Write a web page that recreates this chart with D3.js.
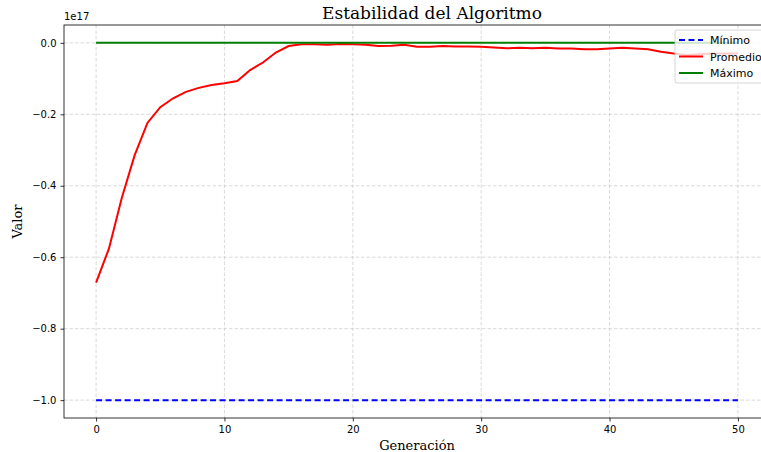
<!DOCTYPE html>
<html>
<head>
<meta charset="utf-8">
<script src="https://cdn.jsdelivr.net/npm/d3@7"></script>
<style>
  body { margin: 0; background: #fff; overflow: hidden; }
  svg { display: block; }
</style>
</head>
<body>
<svg id="chart" width="761" height="452"></svg>
<script>
// generations 0..50, values in units of 1e17
let generaciones = d3.range(0, 51);
let minimo = generaciones.map(() => -1.0);
let maximo = generaciones.map(() => 0.0);
let promedio = [
    -0.671, -0.576, -0.434, -0.315, -0.224, -0.180, -0.155, -0.137, -0.126, -0.118,
    -0.113, -0.107, -0.076, -0.055, -0.027, -0.009, -0.004, -0.004, -0.005, -0.003,
    -0.004, -0.005, -0.009, -0.008, -0.005, -0.011, -0.011, -0.009, -0.010, -0.010,
    -0.011, -0.013, -0.015, -0.014, -0.015, -0.014, -0.016, -0.016, -0.018, -0.018,
    -0.016, -0.014, -0.016, -0.018, -0.025, -0.030, -0.034, -0.032, -0.030, -0.030,
    -0.030
];
let xTicks = [0, 10, 20, 30, 40, 50];
let yTicks = [0.0, -0.2, -0.4, -0.6, -0.8, -1.0];

let series = [
    {name: "Mínimo", values: minimo, color: "blue", dash: "6,3.5"},
    {name: "Promedio", values: promedio, color: "red", dash: null},
    {name: "Máximo", values: maximo, color: "green", dash: null}
];

let margin = {top: 25, left: 64, right: -9, bottom: 34};
let width = 761 - margin.left - margin.right;
let height = 452 - margin.top - margin.bottom;

let svg = d3.select("#chart");
let g = svg.append("g").attr("transform", `translate(${margin.left},${margin.top})`);

let x = d3.scaleLinear().domain([-2.5, 52.5]).range([0, width]);
let y = d3.scaleLinear().domain([-1.05, 0.05]).range([height, 0]);

// grid
g.append("g").selectAll("line").data(xTicks).enter().append("line")
    .attr("x1", d => x(d)).attr("x2", d => x(d))
    .attr("y1", 0).attr("y2", height)
    .attr("stroke", "#b0b0b0").attr("stroke-opacity", 0.6)
    .attr("stroke-dasharray", "3.5,2").attr("stroke-width", 0.8);
g.append("g").selectAll("line").data(yTicks).enter().append("line")
    .attr("y1", d => y(d)).attr("y2", d => y(d))
    .attr("x1", 0).attr("x2", width)
    .attr("stroke", "#b0b0b0").attr("stroke-opacity", 0.6)
    .attr("stroke-dasharray", "3.5,2").attr("stroke-width", 0.8);

// lines
let line = d3.line()
    .x((d, i) => x(generaciones[i]))
    .y(d => y(d));

series.forEach(s => {
    g.append("path")
        .datum(s.values)
        .attr("fill", "none")
        .attr("stroke", s.color)
        .attr("stroke-width", 2)
        .attr("stroke-dasharray", s.dash)
        .attr("d", line);
});

// axes
let fmt = d => d3.format(".1f")(d).replace("-", "−");
let xAxis = g.append("g").attr("transform", `translate(0,${height})`)
    .call(d3.axisBottom(x).tickValues(xTicks).tickSize(3.5).tickPadding(4));
let yAxis = g.append("g")
    .call(d3.axisLeft(y).tickValues(yTicks).tickFormat(fmt).tickSize(3.5).tickPadding(4));
[xAxis, yAxis].forEach(a => {
    a.select(".domain").remove();
    a.selectAll("text").attr("font-family", "DejaVu Sans").attr("font-size", 10).attr("fill", "#000");
    a.selectAll("line").attr("stroke", "#000").attr("stroke-width", 0.8);
});

// spines
g.append("rect")
    .attr("x", 0).attr("y", 0).attr("width", width).attr("height", height)
    .attr("fill", "none").attr("stroke", "#000").attr("stroke-width", 0.8);

// offset text
svg.append("text")
    .attr("x", margin.left).attr("y", margin.top - 5)
    .attr("font-family", "DejaVu Sans").attr("font-size", 10)
    .text("1e17");

// title and labels
svg.append("text")
    .attr("x", 432).attr("y", 19)
    .attr("text-anchor", "middle")
    .attr("font-family", "DejaVu Serif").attr("font-size", 17)
    .text("Estabilidad del Algoritmo");

svg.append("text")
    .attr("x", 417).attr("y", 450)
    .attr("text-anchor", "middle")
    .attr("font-family", "DejaVu Serif").attr("font-size", 13)
    .text("Generación");

svg.append("text")
    .attr("transform", `translate(22,${margin.top + height / 2}) rotate(-90)`)
    .attr("text-anchor", "middle")
    .attr("font-family", "DejaVu Serif").attr("font-size", 13)
    .text("Valor");

// legend
let legend = svg.append("g").attr("transform", "translate(675,30)");
legend.append("rect")
    .attr("width", 100).attr("height", 53).attr("rx", 2)
    .attr("fill", "#fff").attr("fill-opacity", 0.8)
    .attr("stroke", "#ccc").attr("stroke-width", 0.8);
series.forEach((s, i) => {
    let ly = 10 + i * 16.5;
    legend.append("line")
        .attr("x1", 4).attr("x2", 28).attr("y1", ly).attr("y2", ly)
        .attr("stroke", s.color).attr("stroke-width", 2)
        .attr("stroke-dasharray", s.dash);
    legend.append("text")
        .attr("x", 35).attr("y", ly + 4)
        .attr("font-family", "DejaVu Sans").attr("font-size", 11)
        .text(s.name);
});
</script>
</body>
</html>
